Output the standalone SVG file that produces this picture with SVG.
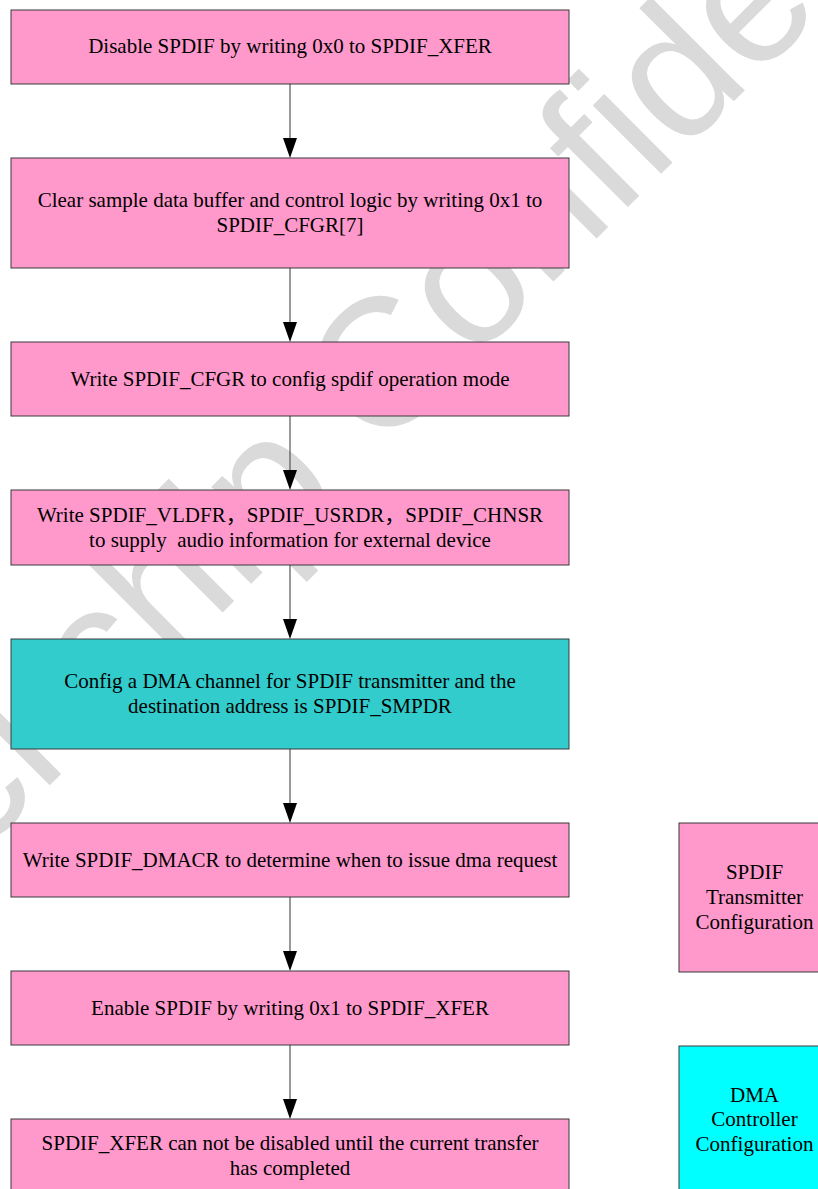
<svg xmlns="http://www.w3.org/2000/svg" width="818" height="1189" viewBox="0 0 818 1189">
<style>
.bg{fill:#ffffff}
.wm{font-family:"Liberation Sans",Arial,sans-serif;font-size:183px;fill:#dadada}
.box{stroke:#3a3a3a;stroke-width:1}
.pink{fill:#ff99cc}
.teal{fill:#33cccc}
.cyan{fill:#00ffff}
.t{font-family:"Liberation Serif","Noto Sans CJK SC",serif;font-size:21px;fill:#000;text-anchor:middle}
.ln{stroke:#555555;stroke-width:1.2;fill:none}
.ah{fill:#000}
</style>
<rect class="bg" x="0" y="0" width="818" height="1189"/>
<g id="watermark">
<text class="wm" transform="translate(-189,1024) rotate(-45)">Rockchip Confidential</text>
</g>
<g id="connectors">
<line class="ln" x1="290" y1="84" x2="290" y2="140"/><polygon class="ah" points="290,158 283,138 297,138"/>
<line class="ln" x1="290" y1="268" x2="290" y2="324"/><polygon class="ah" points="290,342 283,322 297,322"/>
<line class="ln" x1="290" y1="416" x2="290" y2="472"/><polygon class="ah" points="290,490 283,470 297,470"/>
<line class="ln" x1="290" y1="565" x2="290" y2="621"/><polygon class="ah" points="290,639 283,619 297,619"/>
<line class="ln" x1="290" y1="749" x2="290" y2="805"/><polygon class="ah" points="290,823 283,803 297,803"/>
<line class="ln" x1="290" y1="897" x2="290" y2="953"/><polygon class="ah" points="290,971 283,951 297,951"/>
<line class="ln" x1="290" y1="1045" x2="290" y2="1101"/><polygon class="ah" points="290,1119 283,1099 297,1099"/>
</g>
<g id="n1"><rect class="box pink" x="11" y="10" width="558" height="74"/><text class="t" x="290" y="53">Disable SPDIF by writing 0x0 to SPDIF_XFER</text></g>
<g id="n2"><rect class="box pink" x="11" y="158" width="558" height="110"/><text class="t" x="290" y="207">Clear sample data buffer and control logic by writing 0x1 to</text><text class="t" x="290" y="232">SPDIF_CFGR[7]</text></g>
<g id="n3"><rect class="box pink" x="11" y="342" width="558" height="74"/><text class="t" x="290" y="386">Write SPDIF_CFGR to config spdif operation mode</text></g>
<g id="n4"><rect class="box pink" x="11" y="490" width="558" height="75"/><text class="t" x="290" y="522">Write SPDIF_VLDFR，SPDIF_USRDR，SPDIF_CHNSR</text><text class="t" x="290" y="547" xml:space="preserve">to supply  audio information for external device</text></g>
<g id="n5"><rect class="box teal" x="11" y="639" width="558" height="110"/><text class="t" x="290" y="688">Config a DMA channel for SPDIF transmitter and the</text><text class="t" x="290" y="713">destination address is SPDIF_SMPDR</text></g>
<g id="n6"><rect class="box pink" x="11" y="823" width="558" height="74"/><text class="t" x="290" y="867">Write SPDIF_DMACR to determine when to issue dma request</text></g>
<g id="n7"><rect class="box pink" x="11" y="971" width="558" height="74"/><text class="t" x="290" y="1015">Enable SPDIF by writing 0x1 to SPDIF_XFER</text></g>
<g id="n8"><rect class="box pink" x="11" y="1119" width="558" height="90"/><text class="t" x="290" y="1150">SPDIF_XFER can not be disabled until the current transfer</text><text class="t" x="290" y="1175">has completed</text></g>
<g id="legend-spdif"><rect class="box pink" x="679" y="823" width="151" height="149"/><text class="t" x="754.5" y="879">SPDIF</text><text class="t" x="754.5" y="904">Transmitter</text><text class="t" x="754.5" y="929">Configuration</text></g>
<g id="legend-dma"><rect class="box cyan" x="679" y="1046" width="151" height="160"/><text class="t" x="754.5" y="1102">DMA</text><text class="t" x="754.5" y="1126">Controller</text><text class="t" x="754.5" y="1151">Configuration</text></g>
</svg>
